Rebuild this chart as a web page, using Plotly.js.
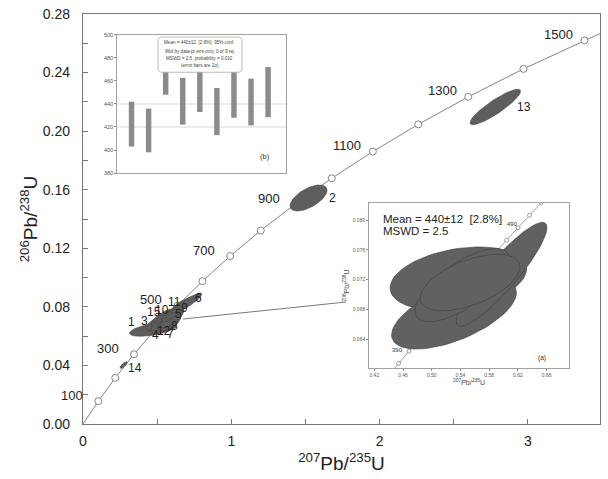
<!DOCTYPE html>
<html><head><meta charset="utf-8">
<script src="https://cdn.plot.ly/plotly-3.0.1.min.js"></script>
<style>html,body{margin:0;padding:0;background:#fff}</style>
</head><body><div id="chart" style="width:608px;height:479px"></div>
<script>
// ---- Concordia (main diagram), ages in Ma ----
const concAge = [0,100,200,300,400,500,600,700,800,900,1000,1100,1200,1300,1400,1500,1530];
const concX = [0,0.10350,0.21771,0.34374,0.48281,0.63628,0.80564,0.99252,1.19873,1.42630,1.67742,1.95452,2.26033,2.59776,2.97013,3.38104,3.51240];
const concY = [0,0.015633,0.031511,0.047637,0.064016,0.080650,0.097544,0.114702,0.132128,0.149827,0.167800,0.186053,0.204591,0.223418,0.242537,0.261955,0.267842];
const concLabelAges = [100,300,500,700,900,1100,1300,1500];

// ---- Spot analyses (2-sigma error ellipses) ----
const spotLabel = ['1','3','15','10','4','12','7','8','5','9','11','6','2','13','14'];
const spotX   = [0.474,0.519,0.539,0.566,0.539,0.566,0.587,0.600,0.600,0.627,0.668,0.701,1.5206,2.780,0.2744];
const spotY   = [0.0647,0.0697,0.0724,0.0724,0.0676,0.0697,0.0697,0.0724,0.0751,0.0772,0.0813,0.0826,0.15434,0.2165,0.0403];
const spotSX  = [0.160,0.094,0.081,0.101,0.081,0.067,0.074,0.081,0.067,0.067,0.081,0.101,0.1247,0.1706,0.025];
const spotSY  = [0.0048,0.0061,0.0061,0.0075,0.0061,0.0055,0.0061,0.0068,0.0055,0.0055,0.0055,0.0068,0.00888,0.01209,0.00225];
const spotRho = [0.55,0.7,0.75,0.8,0.6,0.7,0.6,0.75,0.8,0.8,0.85,0.9,0.6,0.89,0.8];
const spotLabelX = [0.324,0.418,0.479,0.533,0.486,0.546,0.587,0.620,0.647,0.681,0.614,0.782,1.679,2.974,0.351];
const spotLabelY = [0.0697,0.0703,0.0765,0.0779,0.0608,0.0635,0.0615,0.0669,0.0751,0.0792,0.0833,0.0860,0.1543,0.2165,0.0382];

// ---- Inset (a): enlarged concordia ----
const insAge = [370,380,390,400,410,420,430,440,450,460,470,480,490,500,510,520];
const insX = [0.43964,0.45389,0.46828,0.48281,0.49749,0.51229,0.52726,0.54237,0.55764,0.57305,0.58862,0.60435,0.62024,0.63628,0.65248,0.66883];
const insY = [0.059076,0.060720,0.062367,0.064016,0.065668,0.067322,0.068979,0.070638,0.072300,0.073965,0.075632,0.077302,0.078975,0.080650,0.082328,0.084008];
const insLabelAges = [390,490];
const insEllX   = [0.5370,0.5310,0.5974,0.5426,0.5602,0.5533];
const insEllY   = [0.07214,0.06739,0.0727,0.07124,0.07124,0.0716];
const insEllSX  = [0.0951,0.0870,0.0631,0.0659,0.0487,0.0696];
const insEllSY  = [0.00425,0.00474,0.00700,0.00493,0.00336,0.0038];
const insEllRho = [0.3,0.6,0.9,0.7,0.75,0.55];
const insXTicks = [0.42,0.46,0.50,0.54,0.58,0.62,0.66];
const insYTicks = [0.060,0.064,0.068,0.072,0.076,0.080];

// ---- Inset (b): weighted mean ages (Ma, 2 sigma) ----
const barSpot = [1,2,3,4,5,6,7,8,9];
const barAge  = [422.5,417.0,466.0,442.4,453.0,433.4,449.0,441.7,450.3];
const barErr  = [19.5,19.0,18.0,20.3,20.0,20.5,21.0,20.3,21.8];
const wmLines = [440,420];
const wmYTicks = [380,400,420,440,460,480,500];

// ---- Main tick labels ----
const xTickVals = [0,0.5,1,1.5,2,2.5,3,3.5];
const xTickText = ['0',' ','1',' ','2',' ','3',' '];
const yTickVals = [0,0.02,0.04,0.06,0.08,0.10,0.12,0.14,0.16,0.18,0.20,0.22,0.24,0.26,0.28];
const yTickText = ['0.00',' ','0.04',' ','0.08',' ','0.12',' ','0.16',' ','0.20',' ','0.24',' ','0.28'];

function ellipse(cx,cy,sx,sy,r){
  const xs=[],ys=[],n=72,q=Math.sqrt(1-r*r);
  for(let i=0;i<=n;i++){const t=2*Math.PI*i/n,c=Math.cos(t),s=Math.sin(t);
    xs.push(cx+sx*c); ys.push(cy+sy*(r*c+q*s));}
  return {xs,ys};
}

const traces=[];
traces.push({x:concX,y:concY,mode:'lines',line:{color:'#777',width:0.9},hoverinfo:'skip',xaxis:'x',yaxis:'y'});
const mk = concAge.map((a,i)=>i).filter(i=>concAge[i]>=100&&concAge[i]<=1500);
traces.push({x:mk.map(i=>concX[i]),y:mk.map(i=>concY[i]),mode:'markers',
  marker:{symbol:'circle',size:7,color:'#fff',line:{color:'#777',width:0.9}},hoverinfo:'skip',xaxis:'x',yaxis:'y'});
for(let i=0;i<spotX.length;i++){
  const e=ellipse(spotX[i],spotY[i],spotSX[i],spotSY[i],spotRho[i]);
  traces.push({x:e.xs,y:e.ys,mode:'lines',fill:'toself',fillcolor:'#5e5e5e',
    line:{color:'#444',width:0.6},hoverinfo:'skip',xaxis:'x',yaxis:'y'});
}
traces.push({x:insX,y:insY,mode:'lines+markers',line:{color:'#777',width:0.7},
  marker:{symbol:'circle',size:4,color:'#fff',line:{color:'#777',width:0.7}},hoverinfo:'skip',xaxis:'x2',yaxis:'y2'});
for(let i=0;i<insEllX.length;i++){
  const e=ellipse(insEllX[i],insEllY[i],insEllSX[i],insEllSY[i],insEllRho[i]);
  traces.push({x:e.xs,y:e.ys,mode:'lines',fill:'toself',fillcolor:'#616161',
    line:{color:'#3e3e3e',width:0.6},hoverinfo:'skip',xaxis:'x2',yaxis:'y2'});
}
traces.push({type:'bar',x:barSpot,y:barErr.map(e=>2*e),base:barAge.map((a,i)=>a-barErr[i]),
  width:0.32,marker:{color:'#8b8b8b',line:{width:0}},hoverinfo:'skip',xaxis:'x3',yaxis:'y3'});

const ann=[];
concLabelAges.forEach(a=>{const i=concAge.indexOf(a);
  ann.push({x:concX[i],y:concY[i],xref:'x',yref:'y',text:String(a),showarrow:false,
    xshift:-26,yshift:6,font:{size:13,color:'#222'}});});
spotLabel.forEach((t,i)=>ann.push({x:spotLabelX[i],y:spotLabelY[i],xref:'x',yref:'y',text:t,showarrow:false,
  font:{size:12,color:'#222'}}));
insLabelAges.forEach((a,k)=>{const i=insAge.indexOf(a);
  ann.push({x:insX[i],y:insY[i],xref:'x2',yref:'y2',text:String(a),showarrow:false,
    xshift:k===0?-11:-6,yshift:k===0?1:4,font:{size:6,color:'#333'}});});
ann.push({x:0.4293,y:0.0801,xref:'x2',yref:'y2',xanchor:'left',text:'Mean = 440±12  [2.8%]',showarrow:false,font:{size:11.5,color:'#222'}});
ann.push({x:0.4293,y:0.07849,xref:'x2',yref:'y2',xanchor:'left',text:'MSWD = 2.5',showarrow:false,font:{size:11.5,color:'#222'}});
ann.push({x:0.6536,y:0.06144,xref:'x2',yref:'y2',text:'(a)',showarrow:false,font:{size:6.5,color:'#333'}});
ann.push({x:0.6466,y:0.0826,xref:'x2',yref:'y2',text:'data-point error ellipses are 2σ',showarrow:false,font:{size:4,color:'#444'}});
const boxLines=['Mean = 440±12  [2.8%]  95% conf.','Wtd by data-pt errs only, 0 of 9 rej.','MSWD = 2.5, probability = 0.010','(error bars are 2σ)'];
const boxY=[493.5,486,479.5,473.5];
boxLines.forEach((t,k)=>ann.push({x:5.0,y:boxY[k],xref:'x3',yref:'y3',text:t,showarrow:false,font:{size:4.6,color:'#444'}}));
ann.push({x:8.8,y:394,xref:'x3',yref:'y3',text:'(b)',showarrow:false,font:{size:7.5,color:'#333'}});

const shapes=[];
wmLines.forEach(v=>shapes.push({type:'line',xref:'x3',yref:'y3',x0:0.15,x1:10.05,y0:v,y1:v,layer:'below',line:{color:'#cfcfcf',width:0.8}}));
shapes.push({type:'path',xref:'x3',yref:'y3',layer:'above',fillcolor:'#fff',line:{color:'#aaa',width:0.8},
  path:'M 2.8,498.2 L 7.22,498.2 Q 7.47,498.2 7.47,494.7 L 7.47,471.1 Q 7.47,467.6 7.22,467.6 L 2.8,467.6 Q 2.55,467.6 2.55,471.1 L 2.55,494.7 Q 2.55,498.2 2.8,498.2 Z'});
shapes.push({type:'line',xref:'x',yref:'y',x0:0.674,y0:0.0717,x1:1.773,y1:0.0833,line:{color:'#555',width:0.8}});

const ax = {showline:true,linecolor:'#777',linewidth:1.2,mirror:true,showgrid:false,zeroline:false,ticks:'inside',ticklen:5,tickcolor:'#777',tickfont:{size:14,color:'#222'}};
const layout={
  width:608,height:479,margin:{l:83,r:8,t:14,b:55},
  paper_bgcolor:'#fff',plot_bgcolor:'#fff',showlegend:false,
  font:{family:'"Liberation Sans", Arial, sans-serif',color:'#222'},
  xaxis:Object.assign({},ax,{range:[0,3.486],tickmode:'array',tickvals:xTickVals,ticktext:xTickText,ticklabelstandoff:4,
    title:{text:'<sup>207</sup>Pb/<sup>235</sup>U',font:{size:19},standoff:8}}),
  yaxis:Object.assign({},ax,{range:[0,0.28],tickmode:'array',tickvals:yTickVals,ticktext:yTickText,ticklabelstandoff:9,
    title:{text:'<sup>206</sup>Pb/<sup>238</sup>U',font:{size:19},standoff:0}}),
  xaxis2:{domain:[0.5532,0.94],anchor:'y2',range:[0.4126,0.6912],showline:true,linecolor:'#888',linewidth:0.8,mirror:true,
    showgrid:false,zeroline:false,ticks:'outside',ticklen:2,tickcolor:'#888',tickmode:'array',tickvals:insXTicks,tickformat:'.2f',
    tickfont:{size:5,color:'#555'},title:{text:'<sup>207</sup>Pb/<sup>235</sup>U',font:{size:7,color:'#444'},standoff:2}},
  yaxis2:{domain:[0.1366,0.539],anchor:'x2',range:[0.0601,0.0823],showline:true,linecolor:'#888',linewidth:0.8,mirror:true,
    showgrid:false,zeroline:false,ticks:'outside',ticklen:2,tickcolor:'#888',tickmode:'array',tickvals:insYTicks,tickformat:'.3f',
    tickfont:{size:5,color:'#555'},title:{text:'<sup>206</sup>Pb/<sup>238</sup>U',font:{size:7,color:'#444'},standoff:2}},
  xaxis3:{domain:[0.0658,0.3927],anchor:'y3',range:[0.15,10.05],showline:true,linecolor:'#888',linewidth:0.8,mirror:true,
    showgrid:false,zeroline:false,showticklabels:false,ticks:''},
  yaxis3:{domain:[0.6122,0.9488],anchor:'x3',range:[380,500],showline:true,linecolor:'#888',linewidth:0.8,mirror:true,
    showgrid:false,zeroline:false,ticks:'outside',ticklen:2,tickcolor:'#888',tickmode:'array',tickvals:wmYTicks,
    tickfont:{size:5.5,color:'#555'}},
  annotations:ann,shapes:shapes
};
Plotly.newPlot('chart',traces,layout,{staticPlot:true,displayModeBar:false});
</script></body></html>
